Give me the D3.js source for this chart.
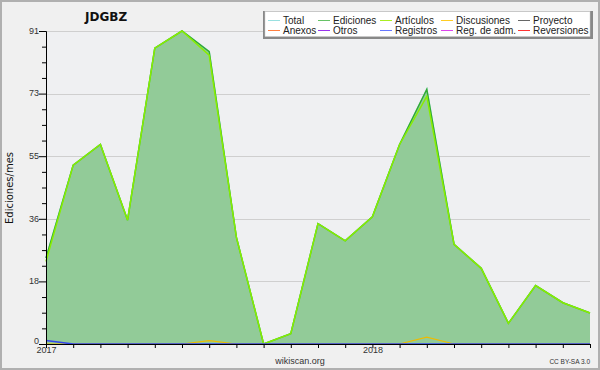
<!DOCTYPE html>
<html><head><meta charset="utf-8">
<script src="https://cdn.jsdelivr.net/npm/d3@7"></script>
<style>html,body{margin:0;padding:0;background:#f0f0f0;}svg{display:block;}</style>
</head><body>
<svg id="c" width="600" height="370"></svg>
<script>
// ---- data ----
const months = ["2017-01","2017-02","2017-03","2017-04","2017-05","2017-06","2017-07","2017-08","2017-09","2017-10","2017-11","2017-12",
                "2018-01","2018-02","2018-03","2018-04","2018-05","2018-06","2018-07","2018-08","2018-09"];
const total       = [25,52,58,36,86,91,85,31,0,3,35,30,37,58,74,29,22,6,17,12,9];
const ediciones   = [25,52,58,36,86,91,85,31,0,3,35,30,37,58,74,29,22,6,17,12,9];
const articulos   = [24,52,58,36,86,91,84,31,0,3,35,30,37,58,72,29,22,6,17,12,9];
const discusiones = [0,0,0,0,0,0,1,0,0,0,0,0,0,0,2,0,0,0,0,0,0];
const registros   = [1,0,0,0,0,0,0,0,0,0,0,0,0,0,0,0,0,0,0,0,0];
const xTickMonths = ["2017-01","2018-01"];
const xTickLabels = ["2017","2018"];
const yMax = 91;
const yTickLabels = ["0","18","36","55","73","91"];
const legendNames = ["Total","Ediciones","Artículos","Discusiones","Proyecto","Anexos","Otros","Registros","Reg. de adm.","Reversiones"];
const legendColors = ["#99e0e0","#66c266","#aaee22","#ffcc22","#666666","#ff7f40","#9933ee","#6677ff","#dd44ee","#ff3333"];

// ---- layout ----
const svg = d3.select("#c");
const L = 46, R = 590, T = 31, B = 344;
const x = d3.scaleLinear().domain([0, months.length - 1]).range([L, R]);
const y = d3.scaleLinear().domain([0, yMax]).range([B, T]);
const font = "'Liberation Sans', Arial, sans-serif";

svg.append("rect").attr("x",1).attr("y",1).attr("width",598).attr("height",368)
  .attr("fill","#f0f0f0").attr("stroke","#b0b0b0").attr("stroke-width",2);
svg.append("rect").attr("x",L).attr("y",T).attr("width",R-L).attr("height",B-T).attr("fill","#eff0f2");

// grid
const yMajor = d3.range(0,6).map(i => yMax*i/5);
svg.append("g").selectAll("line").data(yMajor.slice(1)).join("line")
  .attr("x1",L).attr("x2",R).attr("y1",d=>Math.round(y(d))+0.5).attr("y2",d=>Math.round(y(d))+0.5)
  .attr("stroke","#cfcfcf").attr("stroke-width",1);

// area
const idx = months.map((m,i)=>i);
const area = d3.area().x(i=>x(i)).y0(y(0)).y1(i=>y(ediciones[i]));
svg.append("path").datum(idx).attr("d",area).attr("fill","#92cb98");
const line = arr => d3.line().x(i=>x(i)).y(i=>y(arr[i]));
svg.append("path").datum(idx).attr("d",line(total)).attr("fill","none").attr("stroke",legendColors[0]).attr("stroke-width",1.5);
svg.append("path").datum(idx).attr("d",line(ediciones)).attr("fill","none").attr("stroke","#33aa33").attr("stroke-width",1.5);
svg.append("path").datum(idx).attr("d",line(articulos)).attr("fill","none").attr("stroke","#88ee00").attr("stroke-width",1.5);
svg.append("path").datum(idx).attr("d",line(discusiones)).attr("fill","none").attr("stroke","#eebb00").attr("stroke-width",1.2);
svg.append("path").datum(idx).attr("d",line(registros)).attr("fill","none").attr("stroke","#3344ee").attr("stroke-width",1.5);

// axes
const yAxis = d3.axisLeft(y).tickValues(yMajor).tickSize(7).tickFormat((d,i)=>yTickLabels[i]);
const gy = svg.append("g").attr("transform",`translate(${L},0)`).call(yAxis);
const yMinor = d3.range(0,21).map(i=>yMax*i/20).filter((d,i)=>i%4!==0);
svg.append("g").attr("transform",`translate(${L},0)`).call(d3.axisLeft(y).tickValues(yMinor).tickSize(4).tickFormat(""))
  .call(g=>g.select(".domain").remove());
const xAxis = d3.axisBottom(x).tickValues(idx).tickSize(4)
  .tickFormat(i => { const k = xTickMonths.indexOf(months[i]); return k>=0 ? xTickLabels[k] : ""; });
const gx = svg.append("g").attr("transform",`translate(0,${B})`).call(xAxis);
svg.selectAll(".domain").attr("stroke","#000");
svg.selectAll(".tick line").attr("stroke","#000");
gy.selectAll("text").attr("font-family",font).attr("font-size",9).attr("fill","#333").attr("x",-7)
  .attr("dy",(d,i)=> i===0 ? "-0.05em" : "0.25em");
gx.selectAll("text").attr("font-family",font).attr("font-size",9).attr("fill","#333").attr("y",3).attr("dy","0.71em");

// title
svg.append("text").attr("x",85).attr("y",21).attr("font-family","'DejaVu Sans', sans-serif").attr("font-weight","bold")
  .attr("font-size",12).attr("fill","#111").text("JDGBZ");
// y label
svg.append("text").attr("transform","translate(13,188) rotate(-90)").attr("text-anchor","middle")
  .attr("font-family","'DejaVu Sans', sans-serif").attr("font-size",10).attr("fill","#111").text("Ediciones/mes");
// footer
svg.append("text").attr("x",300).attr("y",364).attr("text-anchor","middle").attr("font-family",font)
  .attr("font-size",9).attr("fill","#333").text("wikiscan.org");
svg.append("text").attr("x",590).attr("y",364).attr("text-anchor","end").attr("font-family",font)
  .attr("font-size",6.5).attr("fill","#333").text("CC BY-SA 3.0");

// legend
svg.append("rect").attr("x",263).attr("y",11).attr("width",330).attr("height",28).attr("fill","#888");
svg.append("rect").attr("x",265).attr("y",11.5).attr("width",325).attr("height",25).attr("fill","#fff").attr("stroke","#ccc").attr("stroke-width",0.5);
const colX = [268,318,380,441,518];
const lg = svg.append("g").selectAll("g").data(legendNames).join("g")
  .attr("transform",(d,i)=>`translate(${colX[i%5]},${i<5?20.5:30.5})`);
lg.append("line").attr("x1",0).attr("x2",12).attr("stroke",(d,i)=>legendColors[i]).attr("stroke-width",1);
lg.append("text").attr("x",15).attr("y",3.5).attr("font-family",font).attr("font-size",10).attr("fill","#222").text(d=>d);
</script>
</body></html>
